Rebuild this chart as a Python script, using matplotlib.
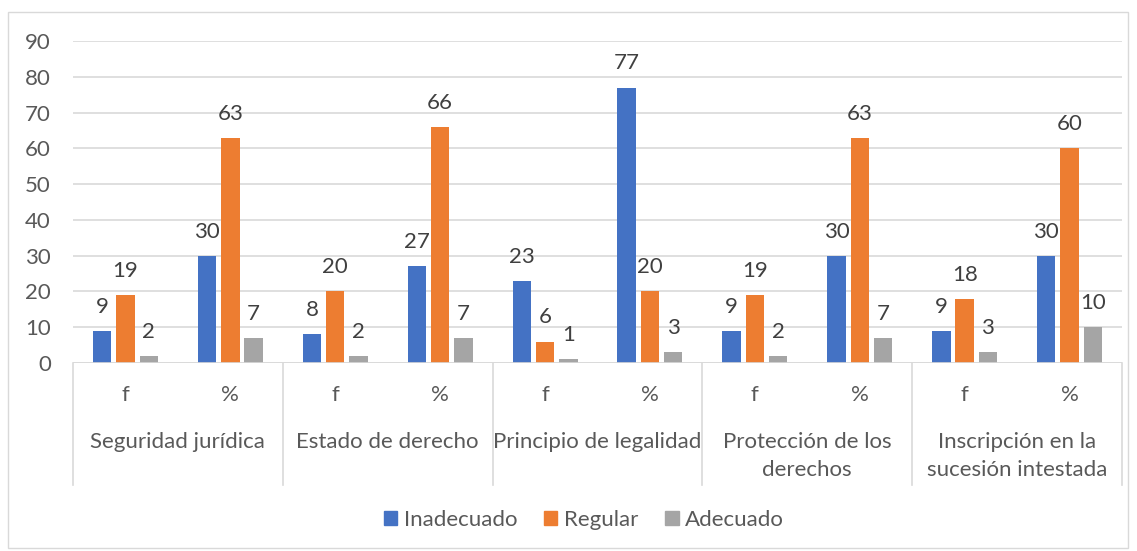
import matplotlib
matplotlib.use("Agg")
import matplotlib.pyplot as plt
from matplotlib.patches import Rectangle
import numpy as np

plt.rcParams['font.family'] = ['Lato', 'DejaVu Sans']

groups = ["Seguridad jurídica", "Estado de derecho", "Principio de legalidad",
          "Protección de los\nderechos", "Inscripción en la\nsucesión intestada"]
subcats = ["f", "%"]
series = ["Inadecuado", "Regular", "Adecuado"]
inadecuado = [9, 30, 8, 27, 23, 77, 9, 30, 9, 30]
regular = [19, 63, 20, 66, 6, 20, 19, 63, 18, 60]
adecuado = [2, 7, 2, 7, 1, 3, 2, 7, 3, 10]
colors = ["#4472C4", "#ED7D31", "#A5A5A5"]
yticks = [0, 10, 20, 30, 40, 50, 60, 70, 80, 90]

W, H = 1137, 551
FS = 16
fig = plt.figure(figsize=(W / 100, H / 100), dpi=100)
fig.patches.append(Rectangle((8 / W, 3 / H), 1120 / W, 536 / H, transform=fig.transFigure,
                             fill=False, edgecolor="#D9D9D9", linewidth=1))
ax_l, ax_r, ax_b, ax_t = 73, 1122, 363, 41
ax = fig.add_axes([ax_l / W, (H - ax_b) / H, (ax_r - ax_l) / W, (ax_b - ax_t) / H])

txt = "#595959"
n = len(inadecuado)
x = np.arange(n)
bw = 0.175
sp = 0.222
for k, (vals, name, c) in enumerate(zip([inadecuado, regular, adecuado], series, colors)):
    xs = x + (k - 1) * sp
    ax.bar(xs, vals, width=bw, color=c, label=name, zorder=3)
    for xi, v in zip(xs, vals):
        ax.annotate(str(v), (xi, v), xytext=(0, 13), textcoords="offset points",
                    ha="center", va="baseline", fontsize=FS, color="#404040")

ax.set_xlim(-0.5, n - 0.5)
ax.set_ylim(0, 90)
ax.set_yticks(yticks)
ax.tick_params(axis="y", length=0, pad=16, labelsize=FS, labelcolor=txt)
ax.set_xticks([])
ax.grid(axis="y", color="#D9D9D9", linewidth=1.2, zorder=0)
for s in ax.spines.values():
    s.set_visible(False)
ax.axhline(0, color="#D9D9D9", linewidth=1.2, zorder=4)

axh = ax_b - ax_t
def yf(py):
    return -(py - ax_b) / axh

tr = ax.get_xaxis_transform()
for g in range(len(groups) + 1):
    xp = -0.5 + 2 * g
    ax.plot([xp, xp], [0, yf(485)], transform=tr, color="#D9D9D9",
            linewidth=1.2, clip_on=False)
for i in range(n):
    ax.text(i, yf(395), subcats[i % 2], transform=tr, ha="center", va="center",
            fontsize=FS, color=txt)
for g, name in enumerate(groups):
    for j, line in enumerate(name.split("\n")):
        ax.text(2 * g + 0.5, yf(442 + 28 * j), line, transform=tr, ha="center", va="center",
                fontsize=FS, color=txt)

handles = [Rectangle((0, 0), 1, 1, color=c) for c in colors]
leg = fig.legend(handles, series, loc="center", bbox_to_anchor=(584 / W, (H - 520) / H),
                 ncol=3, frameon=False, fontsize=FS, handlelength=0.6, handleheight=0.6,
                 handletextpad=0.3, columnspacing=1.2)
for t in leg.get_texts():
    t.set_color(txt)

fig.savefig("out.png", dpi=100)
